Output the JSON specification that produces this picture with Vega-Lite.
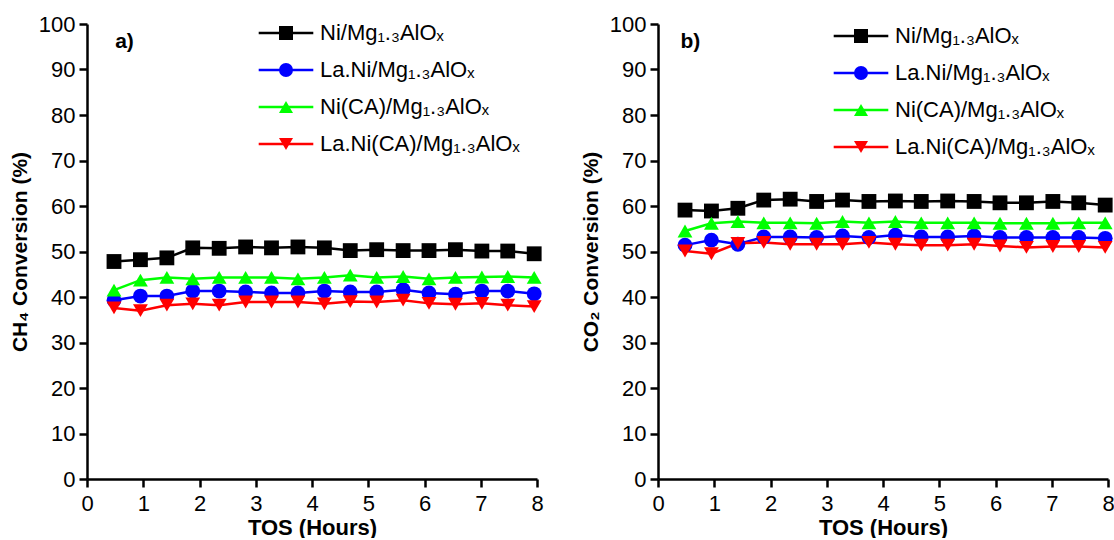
{
  "$schema": "https://vega.github.io/schema/vega-lite/v6.json",
  "padding": {"left": 9, "top": 13, "right": 5, "bottom": 0},
  "background": "white",
  "config": {
    "view": {"stroke": null},
    "font": "Liberation Sans",
    "axis": {
      "grid": false,
      "domainColor": "black",
      "domainWidth": 2.5,
      "tickColor": "black",
      "tickWidth": 2.5,
      "tickSize": 8,
      "labelColor": "black",
      "labelFont": "Liberation Sans",
      "labelFontSize": 22,
      "labelPadding": 4,
      "titleColor": "black",
      "titleFont": "Liberation Sans",
      "titleFontWeight": "bold",
      "labelFlush": false,
      "labelOverlap": false
    },
    "legend": {
      "labelFont": "Liberation Sans",
      "labelColor": "black",
      "labelFontSize": 22,
      "labelLimit": 0,
      "rowPadding": 15,
      "padding": 0
    },
    "concat": {"spacing": 36}
  },
  "datasets": {
    "conv": [
      {"panel": "a", "series": "Ni/Mg₁.₃AlOₓ", "tos": 0.48, "value": 47.8},
      {"panel": "a", "series": "Ni/Mg₁.₃AlOₓ", "tos": 0.95, "value": 48.2},
      {"panel": "a", "series": "Ni/Mg₁.₃AlOₓ", "tos": 1.42, "value": 48.6},
      {"panel": "a", "series": "Ni/Mg₁.₃AlOₓ", "tos": 1.88, "value": 50.8},
      {"panel": "a", "series": "Ni/Mg₁.₃AlOₓ", "tos": 2.35, "value": 50.7},
      {"panel": "a", "series": "Ni/Mg₁.₃AlOₓ", "tos": 2.82, "value": 51.0},
      {"panel": "a", "series": "Ni/Mg₁.₃AlOₓ", "tos": 3.28, "value": 50.8},
      {"panel": "a", "series": "Ni/Mg₁.₃AlOₓ", "tos": 3.75, "value": 51.0},
      {"panel": "a", "series": "Ni/Mg₁.₃AlOₓ", "tos": 4.22, "value": 50.8},
      {"panel": "a", "series": "Ni/Mg₁.₃AlOₓ", "tos": 4.68, "value": 50.2},
      {"panel": "a", "series": "Ni/Mg₁.₃AlOₓ", "tos": 5.15, "value": 50.4},
      {"panel": "a", "series": "Ni/Mg₁.₃AlOₓ", "tos": 5.62, "value": 50.2},
      {"panel": "a", "series": "Ni/Mg₁.₃AlOₓ", "tos": 6.08, "value": 50.2},
      {"panel": "a", "series": "Ni/Mg₁.₃AlOₓ", "tos": 6.55, "value": 50.4},
      {"panel": "a", "series": "Ni/Mg₁.₃AlOₓ", "tos": 7.02, "value": 50.1},
      {"panel": "a", "series": "Ni/Mg₁.₃AlOₓ", "tos": 7.48, "value": 50.1},
      {"panel": "a", "series": "Ni/Mg₁.₃AlOₓ", "tos": 7.95, "value": 49.5},

      {"panel": "a", "series": "La.Ni/Mg₁.₃AlOₓ", "tos": 0.48, "value": 39.3},
      {"panel": "a", "series": "La.Ni/Mg₁.₃AlOₓ", "tos": 0.95, "value": 40.2},
      {"panel": "a", "series": "La.Ni/Mg₁.₃AlOₓ", "tos": 1.42, "value": 40.2},
      {"panel": "a", "series": "La.Ni/Mg₁.₃AlOₓ", "tos": 1.88, "value": 41.3},
      {"panel": "a", "series": "La.Ni/Mg₁.₃AlOₓ", "tos": 2.35, "value": 41.3},
      {"panel": "a", "series": "La.Ni/Mg₁.₃AlOₓ", "tos": 2.82, "value": 41.1},
      {"panel": "a", "series": "La.Ni/Mg₁.₃AlOₓ", "tos": 3.28, "value": 40.9},
      {"panel": "a", "series": "La.Ni/Mg₁.₃AlOₓ", "tos": 3.75, "value": 40.9},
      {"panel": "a", "series": "La.Ni/Mg₁.₃AlOₓ", "tos": 4.22, "value": 41.3},
      {"panel": "a", "series": "La.Ni/Mg₁.₃AlOₓ", "tos": 4.68, "value": 41.1},
      {"panel": "a", "series": "La.Ni/Mg₁.₃AlOₓ", "tos": 5.15, "value": 41.1},
      {"panel": "a", "series": "La.Ni/Mg₁.₃AlOₓ", "tos": 5.62, "value": 41.6},
      {"panel": "a", "series": "La.Ni/Mg₁.₃AlOₓ", "tos": 6.08, "value": 40.9},
      {"panel": "a", "series": "La.Ni/Mg₁.₃AlOₓ", "tos": 6.55, "value": 40.6},
      {"panel": "a", "series": "La.Ni/Mg₁.₃AlOₓ", "tos": 7.02, "value": 41.3},
      {"panel": "a", "series": "La.Ni/Mg₁.₃AlOₓ", "tos": 7.48, "value": 41.3},
      {"panel": "a", "series": "La.Ni/Mg₁.₃AlOₓ", "tos": 7.95, "value": 40.7},

      {"panel": "a", "series": "Ni(CA)/Mg₁.₃AlOₓ", "tos": 0.48, "value": 41.5},
      {"panel": "a", "series": "Ni(CA)/Mg₁.₃AlOₓ", "tos": 0.95, "value": 43.7},
      {"panel": "a", "series": "Ni(CA)/Mg₁.₃AlOₓ", "tos": 1.42, "value": 44.3},
      {"panel": "a", "series": "Ni(CA)/Mg₁.₃AlOₓ", "tos": 1.88, "value": 44.0},
      {"panel": "a", "series": "Ni(CA)/Mg₁.₃AlOₓ", "tos": 2.35, "value": 44.3},
      {"panel": "a", "series": "Ni(CA)/Mg₁.₃AlOₓ", "tos": 2.82, "value": 44.3},
      {"panel": "a", "series": "Ni(CA)/Mg₁.₃AlOₓ", "tos": 3.28, "value": 44.3},
      {"panel": "a", "series": "Ni(CA)/Mg₁.₃AlOₓ", "tos": 3.75, "value": 44.0},
      {"panel": "a", "series": "Ni(CA)/Mg₁.₃AlOₓ", "tos": 4.22, "value": 44.3},
      {"panel": "a", "series": "Ni(CA)/Mg₁.₃AlOₓ", "tos": 4.68, "value": 44.8},
      {"panel": "a", "series": "Ni(CA)/Mg₁.₃AlOₓ", "tos": 5.15, "value": 44.3},
      {"panel": "a", "series": "Ni(CA)/Mg₁.₃AlOₓ", "tos": 5.62, "value": 44.5},
      {"panel": "a", "series": "Ni(CA)/Mg₁.₃AlOₓ", "tos": 6.08, "value": 44.0},
      {"panel": "a", "series": "Ni(CA)/Mg₁.₃AlOₓ", "tos": 6.55, "value": 44.3},
      {"panel": "a", "series": "Ni(CA)/Mg₁.₃AlOₓ", "tos": 7.02, "value": 44.4},
      {"panel": "a", "series": "Ni(CA)/Mg₁.₃AlOₓ", "tos": 7.48, "value": 44.5},
      {"panel": "a", "series": "Ni(CA)/Mg₁.₃AlOₓ", "tos": 7.95, "value": 44.3},

      {"panel": "a", "series": "La.Ni(CA)/Mg₁.₃AlOₓ", "tos": 0.48, "value": 37.6},
      {"panel": "a", "series": "La.Ni(CA)/Mg₁.₃AlOₓ", "tos": 0.95, "value": 37.0},
      {"panel": "a", "series": "La.Ni(CA)/Mg₁.₃AlOₓ", "tos": 1.42, "value": 38.2},
      {"panel": "a", "series": "La.Ni(CA)/Mg₁.₃AlOₓ", "tos": 1.88, "value": 38.5},
      {"panel": "a", "series": "La.Ni(CA)/Mg₁.₃AlOₓ", "tos": 2.35, "value": 38.2},
      {"panel": "a", "series": "La.Ni(CA)/Mg₁.₃AlOₓ", "tos": 2.82, "value": 38.9},
      {"panel": "a", "series": "La.Ni(CA)/Mg₁.₃AlOₓ", "tos": 3.28, "value": 38.9},
      {"panel": "a", "series": "La.Ni(CA)/Mg₁.₃AlOₓ", "tos": 3.75, "value": 38.9},
      {"panel": "a", "series": "La.Ni(CA)/Mg₁.₃AlOₓ", "tos": 4.22, "value": 38.5},
      {"panel": "a", "series": "La.Ni(CA)/Mg₁.₃AlOₓ", "tos": 4.68, "value": 39.0},
      {"panel": "a", "series": "La.Ni(CA)/Mg₁.₃AlOₓ", "tos": 5.15, "value": 38.9},
      {"panel": "a", "series": "La.Ni(CA)/Mg₁.₃AlOₓ", "tos": 5.62, "value": 39.3},
      {"panel": "a", "series": "La.Ni(CA)/Mg₁.₃AlOₓ", "tos": 6.08, "value": 38.6},
      {"panel": "a", "series": "La.Ni(CA)/Mg₁.₃AlOₓ", "tos": 6.55, "value": 38.4},
      {"panel": "a", "series": "La.Ni(CA)/Mg₁.₃AlOₓ", "tos": 7.02, "value": 38.6},
      {"panel": "a", "series": "La.Ni(CA)/Mg₁.₃AlOₓ", "tos": 7.48, "value": 38.2},
      {"panel": "a", "series": "La.Ni(CA)/Mg₁.₃AlOₓ", "tos": 7.95, "value": 37.9},

      {"panel": "b", "series": "Ni/Mg₁.₃AlOₓ", "tos": 0.48, "value": 59.1},
      {"panel": "b", "series": "Ni/Mg₁.₃AlOₓ", "tos": 0.95, "value": 58.9},
      {"panel": "b", "series": "Ni/Mg₁.₃AlOₓ", "tos": 1.42, "value": 59.5},
      {"panel": "b", "series": "Ni/Mg₁.₃AlOₓ", "tos": 1.88, "value": 61.3},
      {"panel": "b", "series": "Ni/Mg₁.₃AlOₓ", "tos": 2.35, "value": 61.5},
      {"panel": "b", "series": "Ni/Mg₁.₃AlOₓ", "tos": 2.82, "value": 61.0},
      {"panel": "b", "series": "Ni/Mg₁.₃AlOₓ", "tos": 3.28, "value": 61.3},
      {"panel": "b", "series": "Ni/Mg₁.₃AlOₓ", "tos": 3.75, "value": 61.0},
      {"panel": "b", "series": "Ni/Mg₁.₃AlOₓ", "tos": 4.22, "value": 61.1},
      {"panel": "b", "series": "Ni/Mg₁.₃AlOₓ", "tos": 4.68, "value": 61.0},
      {"panel": "b", "series": "Ni/Mg₁.₃AlOₓ", "tos": 5.15, "value": 61.1},
      {"panel": "b", "series": "Ni/Mg₁.₃AlOₓ", "tos": 5.62, "value": 61.0},
      {"panel": "b", "series": "Ni/Mg₁.₃AlOₓ", "tos": 6.08, "value": 60.7},
      {"panel": "b", "series": "Ni/Mg₁.₃AlOₓ", "tos": 6.55, "value": 60.7},
      {"panel": "b", "series": "Ni/Mg₁.₃AlOₓ", "tos": 7.02, "value": 61.0},
      {"panel": "b", "series": "Ni/Mg₁.₃AlOₓ", "tos": 7.48, "value": 60.7},
      {"panel": "b", "series": "Ni/Mg₁.₃AlOₓ", "tos": 7.95, "value": 60.2},

      {"panel": "b", "series": "La.Ni/Mg₁.₃AlOₓ", "tos": 0.48, "value": 51.4},
      {"panel": "b", "series": "La.Ni/Mg₁.₃AlOₓ", "tos": 0.95, "value": 52.5},
      {"panel": "b", "series": "La.Ni/Mg₁.₃AlOₓ", "tos": 1.42, "value": 51.6},
      {"panel": "b", "series": "La.Ni/Mg₁.₃AlOₓ", "tos": 1.88, "value": 53.2},
      {"panel": "b", "series": "La.Ni/Mg₁.₃AlOₓ", "tos": 2.35, "value": 53.2},
      {"panel": "b", "series": "La.Ni/Mg₁.₃AlOₓ", "tos": 2.82, "value": 53.1},
      {"panel": "b", "series": "La.Ni/Mg₁.₃AlOₓ", "tos": 3.28, "value": 53.4},
      {"panel": "b", "series": "La.Ni/Mg₁.₃AlOₓ", "tos": 3.75, "value": 53.1},
      {"panel": "b", "series": "La.Ni/Mg₁.₃AlOₓ", "tos": 4.22, "value": 53.6},
      {"panel": "b", "series": "La.Ni/Mg₁.₃AlOₓ", "tos": 4.68, "value": 53.2},
      {"panel": "b", "series": "La.Ni/Mg₁.₃AlOₓ", "tos": 5.15, "value": 53.2},
      {"panel": "b", "series": "La.Ni/Mg₁.₃AlOₓ", "tos": 5.62, "value": 53.4},
      {"panel": "b", "series": "La.Ni/Mg₁.₃AlOₓ", "tos": 6.08, "value": 53.1},
      {"panel": "b", "series": "La.Ni/Mg₁.₃AlOₓ", "tos": 6.55, "value": 53.1},
      {"panel": "b", "series": "La.Ni/Mg₁.₃AlOₓ", "tos": 7.02, "value": 53.1},
      {"panel": "b", "series": "La.Ni/Mg₁.₃AlOₓ", "tos": 7.48, "value": 53.1},
      {"panel": "b", "series": "La.Ni/Mg₁.₃AlOₓ", "tos": 7.95, "value": 52.9},

      {"panel": "b", "series": "Ni(CA)/Mg₁.₃AlOₓ", "tos": 0.48, "value": 54.5},
      {"panel": "b", "series": "Ni(CA)/Mg₁.₃AlOₓ", "tos": 0.95, "value": 56.2},
      {"panel": "b", "series": "Ni(CA)/Mg₁.₃AlOₓ", "tos": 1.42, "value": 56.6},
      {"panel": "b", "series": "Ni(CA)/Mg₁.₃AlOₓ", "tos": 1.88, "value": 56.3},
      {"panel": "b", "series": "Ni(CA)/Mg₁.₃AlOₓ", "tos": 2.35, "value": 56.3},
      {"panel": "b", "series": "Ni(CA)/Mg₁.₃AlOₓ", "tos": 2.82, "value": 56.2},
      {"panel": "b", "series": "Ni(CA)/Mg₁.₃AlOₓ", "tos": 3.28, "value": 56.6},
      {"panel": "b", "series": "Ni(CA)/Mg₁.₃AlOₓ", "tos": 3.75, "value": 56.3},
      {"panel": "b", "series": "Ni(CA)/Mg₁.₃AlOₓ", "tos": 4.22, "value": 56.6},
      {"panel": "b", "series": "Ni(CA)/Mg₁.₃AlOₓ", "tos": 4.68, "value": 56.3},
      {"panel": "b", "series": "Ni(CA)/Mg₁.₃AlOₓ", "tos": 5.15, "value": 56.3},
      {"panel": "b", "series": "Ni(CA)/Mg₁.₃AlOₓ", "tos": 5.62, "value": 56.3},
      {"panel": "b", "series": "Ni(CA)/Mg₁.₃AlOₓ", "tos": 6.08, "value": 56.2},
      {"panel": "b", "series": "Ni(CA)/Mg₁.₃AlOₓ", "tos": 6.55, "value": 56.2},
      {"panel": "b", "series": "Ni(CA)/Mg₁.₃AlOₓ", "tos": 7.02, "value": 56.2},
      {"panel": "b", "series": "Ni(CA)/Mg₁.₃AlOₓ", "tos": 7.48, "value": 56.3},
      {"panel": "b", "series": "Ni(CA)/Mg₁.₃AlOₓ", "tos": 7.95, "value": 56.3},

      {"panel": "b", "series": "La.Ni(CA)/Mg₁.₃AlOₓ", "tos": 0.48, "value": 50.1},
      {"panel": "b", "series": "La.Ni(CA)/Mg₁.₃AlOₓ", "tos": 0.95, "value": 49.5},
      {"panel": "b", "series": "La.Ni(CA)/Mg₁.₃AlOₓ", "tos": 1.42, "value": 51.8},
      {"panel": "b", "series": "La.Ni(CA)/Mg₁.₃AlOₓ", "tos": 1.88, "value": 52.0},
      {"panel": "b", "series": "La.Ni(CA)/Mg₁.₃AlOₓ", "tos": 2.35, "value": 51.6},
      {"panel": "b", "series": "La.Ni(CA)/Mg₁.₃AlOₓ", "tos": 2.82, "value": 51.6},
      {"panel": "b", "series": "La.Ni(CA)/Mg₁.₃AlOₓ", "tos": 3.28, "value": 51.6},
      {"panel": "b", "series": "La.Ni(CA)/Mg₁.₃AlOₓ", "tos": 3.75, "value": 52.0},
      {"panel": "b", "series": "La.Ni(CA)/Mg₁.₃AlOₓ", "tos": 4.22, "value": 51.6},
      {"panel": "b", "series": "La.Ni(CA)/Mg₁.₃AlOₓ", "tos": 4.68, "value": 51.4},
      {"panel": "b", "series": "La.Ni(CA)/Mg₁.₃AlOₓ", "tos": 5.15, "value": 51.4},
      {"panel": "b", "series": "La.Ni(CA)/Mg₁.₃AlOₓ", "tos": 5.62, "value": 51.6},
      {"panel": "b", "series": "La.Ni(CA)/Mg₁.₃AlOₓ", "tos": 6.08, "value": 51.2},
      {"panel": "b", "series": "La.Ni(CA)/Mg₁.₃AlOₓ", "tos": 6.55, "value": 50.9},
      {"panel": "b", "series": "La.Ni(CA)/Mg₁.₃AlOₓ", "tos": 7.02, "value": 51.1},
      {"panel": "b", "series": "La.Ni(CA)/Mg₁.₃AlOₓ", "tos": 7.48, "value": 51.1},
      {"panel": "b", "series": "La.Ni(CA)/Mg₁.₃AlOₓ", "tos": 7.95, "value": 50.9}
    ]
  },
  "resolve": {"scale": {"color": "independent", "shape": "independent"}, "legend": {"color": "independent", "shape": "independent"}},
  "hconcat": [
    {
      "width": 450,
      "height": 455,
      "resolve": {"legend": {"color": "independent", "shape": "independent"}},
      "layer": [
        {
          "data": {"name": "conv"},
          "transform": [{"filter": "datum.panel === 'a'"}],
          "mark": {"type": "line", "strokeWidth": 2.5},
          "encoding": {
            "x": {"field": "tos", "type": "quantitative", "scale": {"domain": [0, 8], "nice": false}, "axis": {"values": [0,1,2,3,4,5,6,7,8], "format": "d", "title": "TOS (Hours)", "titleFontSize": 22, "titlePadding": 3, "labelPadding": 6}},
            "y": {"field": "value", "type": "quantitative", "scale": {"domain": [0, 100], "nice": false}, "axis": {"values": [0,10,20,30,40,50,60,70,80,90,100], "format": "d", "title": "CH₄ Conversion (%)", "titleFontSize": 21, "titlePadding": 8}},
            "color": {"field": "series", "type": "nominal", "sort": null,
              "scale": {"domain": ["Ni/Mg₁.₃AlOₓ", "La.Ni/Mg₁.₃AlOₓ", "Ni(CA)/Mg₁.₃AlOₓ", "La.Ni(CA)/Mg₁.₃AlOₓ"], "range": ["#000000", "#0000ff", "#00ff00", "#ff0000"]},
              "legend": {"orient": "none", "legendX": 188, "legendY": -2, "title": null, "symbolType": "M-3.9,0H3.9", "symbolSize": 196, "symbolStrokeWidth": 2.5, "labelOpacity": 0, "labelOffset": 23}}
          }
        },
        {
          "data": {"name": "conv"},
          "transform": [{"filter": "datum.panel === 'a'"}],
          "mark": {"type": "point", "filled": true, "size": 220, "opacity": 1},
          "encoding": {
            "x": {"field": "tos", "type": "quantitative"},
            "y": {"field": "value", "type": "quantitative"},
            "color": {"field": "series", "type": "nominal", "sort": null,
              "legend": {"orient": "none", "legendX": 188, "legendY": -2, "title": null, "symbolSize": 196, "symbolStrokeWidth": 0, "labelOffset": 23}},
            "shape": {"field": "series", "type": "nominal", "sort": null,
              "scale": {"domain": ["Ni/Mg₁.₃AlOₓ", "La.Ni/Mg₁.₃AlOₓ", "Ni(CA)/Mg₁.₃AlOₓ", "La.Ni(CA)/Mg₁.₃AlOₓ"], "range": ["square", "circle", "triangle-up", "triangle-down"]},
              "legend": {"orient": "none", "legendX": 188, "legendY": -2, "title": null, "symbolSize": 196, "symbolStrokeWidth": 0, "labelOffset": 23}}
          }
        },
        {
          "data": {"values": [{}]},
          "mark": {"type": "text", "text": "a)", "fontSize": 21, "fontWeight": "bold", "align": "left", "baseline": "middle", "color": "black"},
          "encoding": {"x": {"datum": 0.5}, "y": {"datum": 96}}
        }
      ]
    },
    {
      "width": 450,
      "height": 455,
      "resolve": {"legend": {"color": "independent", "shape": "independent"}},
      "layer": [
        {
          "data": {"name": "conv"},
          "transform": [{"filter": "datum.panel === 'b'"}],
          "mark": {"type": "line", "strokeWidth": 2.5},
          "encoding": {
            "x": {"field": "tos", "type": "quantitative", "scale": {"domain": [0, 8], "nice": false}, "axis": {"values": [0,1,2,3,4,5,6,7,8], "format": "d", "title": "TOS (Hours)", "titleFontSize": 22, "titlePadding": 3, "labelPadding": 6}},
            "y": {"field": "value", "type": "quantitative", "scale": {"domain": [0, 100], "nice": false}, "axis": {"values": [0,10,20,30,40,50,60,70,80,90,100], "format": "d", "title": "CO₂ Conversion (%)", "titleFontSize": 21, "titlePadding": 8}},
            "color": {"field": "series", "type": "nominal", "sort": null,
              "scale": {"domain": ["Ni/Mg₁.₃AlOₓ", "La.Ni/Mg₁.₃AlOₓ", "Ni(CA)/Mg₁.₃AlOₓ", "La.Ni(CA)/Mg₁.₃AlOₓ"], "range": ["#000000", "#0000ff", "#00ff00", "#ff0000"]},
              "legend": {"orient": "none", "legendX": 192, "legendY": 1, "title": null, "symbolType": "M-3.9,0H3.9", "symbolSize": 196, "symbolStrokeWidth": 2.5, "labelOpacity": 0, "labelOffset": 23}}
          }
        },
        {
          "data": {"name": "conv"},
          "transform": [{"filter": "datum.panel === 'b'"}],
          "mark": {"type": "point", "filled": true, "size": 220, "opacity": 1},
          "encoding": {
            "x": {"field": "tos", "type": "quantitative"},
            "y": {"field": "value", "type": "quantitative"},
            "color": {"field": "series", "type": "nominal", "sort": null,
              "legend": {"orient": "none", "legendX": 192, "legendY": 1, "title": null, "symbolSize": 196, "symbolStrokeWidth": 0, "labelOffset": 23}},
            "shape": {"field": "series", "type": "nominal", "sort": null,
              "scale": {"domain": ["Ni/Mg₁.₃AlOₓ", "La.Ni/Mg₁.₃AlOₓ", "Ni(CA)/Mg₁.₃AlOₓ", "La.Ni(CA)/Mg₁.₃AlOₓ"], "range": ["square", "circle", "triangle-up", "triangle-down"]},
              "legend": {"orient": "none", "legendX": 192, "legendY": 1, "title": null, "symbolSize": 196, "symbolStrokeWidth": 0, "labelOffset": 23}}
          }
        },
        {
          "data": {"values": [{}]},
          "mark": {"type": "text", "text": "b)", "fontSize": 21, "fontWeight": "bold", "align": "left", "baseline": "middle", "color": "black"},
          "encoding": {"x": {"datum": 0.4}, "y": {"datum": 96}}
        }
      ]
    }
  ]
}
